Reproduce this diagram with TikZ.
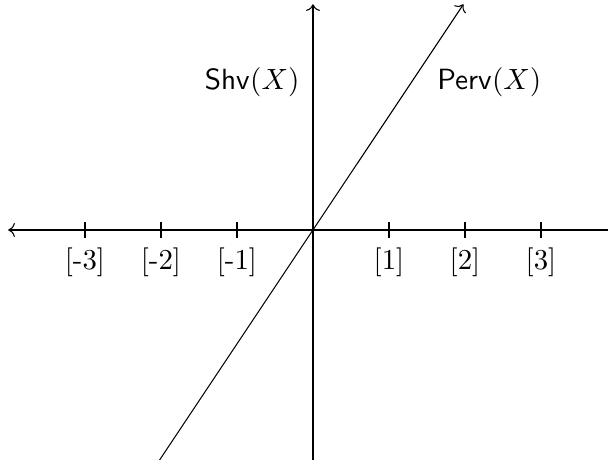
\documentclass[tikz,border=0pt]{standalone}
\usepackage{amsmath}
\usepackage{tikz}
\usetikzlibrary{arrows.meta}

\begin{document}
\begin{tikzpicture}[
    axis/.style={->},
    tickmark/.style={},
    shiftlabel/.style={inner sep=0pt, font=\fontsize{10.8pt}{13pt}\selectfont},
    cat/.style={font=\fontsize{10.7pt}{13pt}\selectfont}
]
    \useasboundingbox (-4.118,-3.026) rectangle (3.882,3.026);

    \coordinate (origin) at (0,0);
    \coordinate (west) at (-4.01,0);
    \coordinate (east) at (4.1,0);
    \coordinate (south) at (0,-3.1);
    \coordinate (north) at (0,2.97);
    \coordinate (low) at (-2.067,-3.1);
    \coordinate (high) at (1.98,2.97);

    \draw[axis] (origin) -- (west);
    \draw[axis] (origin) -- (east);
    \draw[axis] (south) -- (north);
    \draw[axis] (low) -- (high);

    \foreach \k in {-3,-2,-1,1,2,3} {
        \coordinate (t\k) at (\k,0);
        \draw[tickmark] ([yshift=0.1cm]t\k) -- ([yshift=-0.1cm]t\k);
        \node[shiftlabel] (s\k) at (\k,-0.42) {[\k]};
    }

    \node[cat] (shv) at (-0.80,1.95) {$\mathsf{Shv}(X)$};
    \node[cat] (perv) at (2.32,1.95) {$\mathsf{Perv}(X)$};
\end{tikzpicture}
\end{document}
